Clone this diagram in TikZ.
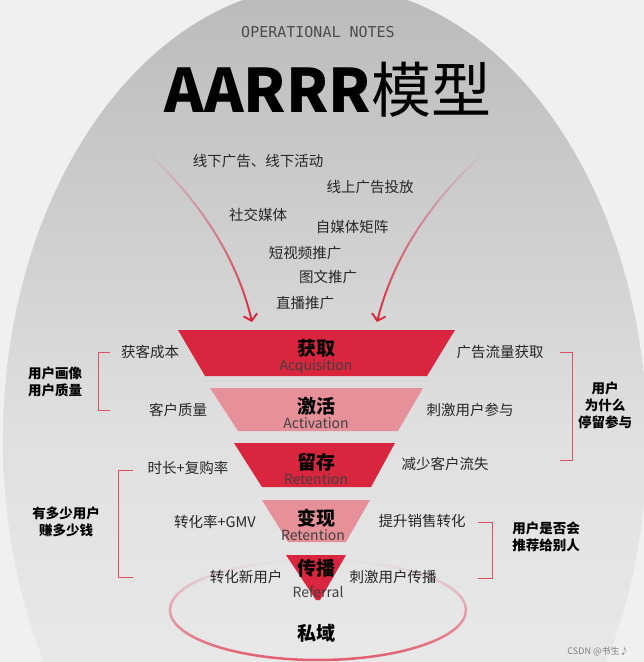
\documentclass[tikz,border=0pt]{standalone}
\usepackage{fontspec}
\setmainfont{Noto Sans CJK SC}
\newfontfamily\monof{DejaVu Sans Mono}
\usetikzlibrary{fadings,arrows.meta,shadings}
\definecolor{fred}{HTML}{D9253D}
\definecolor{fpink}{HTML}{E6909A}
\definecolor{bg}{HTML}{F0F0F0}
\tikzset{
 lab/.style={font=\fontsize{14.5}{16}\selectfont, text=black!85, inner sep=1pt},
 stage/.style={font=\fontsize{19}{20}\selectfont\bfseries, inner sep=0pt},
 eng/.style={font=\fontsize{14}{15}\selectfont, text=black!75, inner sep=0pt},
 side/.style={font=\fontsize{13.5}{17}\selectfont\bfseries, align=center, inner sep=0pt},
 brk/.style={draw=fred!80, line width=0.9pt},
 arr/.style={draw=fred, line width=2pt, -{Straight Barb[length=6pt,width=14pt]}},
}
\begin{document}
\begin{tikzpicture}[x=1pt,y=-1pt]
\useasboundingbox (0,0) rectangle (644,662);
\fill[bg] (0,0) rectangle (644,662);
\begin{scope}
\clip (0,0) rectangle (644,662);
\shade[top color=black!27, bottom color=bg, middle color=black!12] (325,440) ellipse [x radius=322, y radius=455];
\end{scope}
% title
\node[font=\monof\fontsize{15}{16}\selectfont, text=black!70] (op) at (318,32) {OPERATIONAL NOTES};
\node[font=\fontsize{60}{62}\selectfont, inner sep=0pt] (title) at (328,90) {\textbf{AARRR}模型};
% arrows
\draw[arr, path fading=north] (147,152) .. controls (210,210) and (240,270) .. (252,322);
\draw[arr, path fading=north] (485,152) .. controls (420,210) and (390,270) .. (377,322);
% channels
\node[lab] (c1) at (258,161) {线下广告、线下活动};
\node[lab] (c2) at (370,187) {线上广告投放};
\node[lab] (c3) at (258,215) {社交媒体};
\node[lab] (c4) at (352,227) {自媒体矩阵};
\node[lab] (c5) at (305,253) {短视频推广};
\node[lab] (c6) at (328,277) {图文推广};
\node[lab] (c7) at (305,303) {直播推广};
% ellipse
\draw[fred!75, line width=2.5pt, path fading=north] (318,610) ellipse [x radius=148, y radius=50];
% funnel
\fill[fred] (178,330) -- (455,330) -- (427,376) -- (205,376) -- cycle;
\fill[fpink] (210,388) -- (423,388) -- (398,431) -- (238,431) -- cycle;
\fill[fred] (234,443) -- (395,443) -- (371,487) -- (262,487) -- cycle;
\fill[fpink] (262,500) -- (370,500) -- (346,542) -- (288,542) -- cycle;
\fill[fred] (286,555) -- (346,555) -- (320,600) -- (316,600) -- cycle;
\node[stage] (s1) at (316,348) {获取};
\node[eng] (e1) at (316,367) {Acquisition};
\node[stage] (s2) at (316,406) {激活};
\node[eng] (e2) at (316,423) {Activation};
\node[stage] (s3) at (316,462) {留存};
\node[eng] (e3) at (316,479) {Retention};
\node[stage] (s4) at (316,518) {变现};
\node[eng] (e4) at (313,535) {Retention};
\node[stage] (s5) at (316,568) {传播};
\node[eng] (e5) at (318,592) {Referral};
\node[font=\fontsize{19}{20}\selectfont\bfseries] (sy) at (316,633) {私域};
% side labels
\node[lab] (l1) at (150,352) {获客成本};
\node[lab] (r1) at (500,352) {广告流量获取};
\node[lab] (l2) at (178,410) {客户质量};
\node[lab] (r2) at (470,410) {刺激用户参与};
\node[lab] (l3) at (188,468) {时长+复购率};
\node[lab] (r3) at (445,464) {减少客户流失};
\node[lab] (l4) at (215,522) {转化率+GMV};
\node[lab] (r4) at (422,521) {提升销售转化};
\node[lab] (l5) at (246,577) {转化新用户};
\node[lab] (r5) at (393,577) {刺激用户传播};
% brackets
\draw[brk] (110,352) -- (98,352) -- (98,410) -- (110,410);
\node[side] (g1) at (55,382) {用户画像\\用户质量};
\draw[brk] (560,352) -- (572,352) -- (572,460) -- (560,460);
\node[side] (g2) at (605,405) {用户\\为什么\\停留参与};
\draw[brk] (133,470) -- (118,470) -- (118,577) -- (133,577);
\node[side] (g3) at (66,522) {有多少用户\\赚多少钱};
\draw[brk] (478,522) -- (492,522) -- (492,578) -- (478,578);
\node[side] (g4) at (546,537) {用户是否会\\推荐给别人};
\node[font=\fontsize{9}{10}\selectfont, text=black!50] (wm) at (598,651) {CSDN @书生♪};
\end{tikzpicture}
\end{document}
